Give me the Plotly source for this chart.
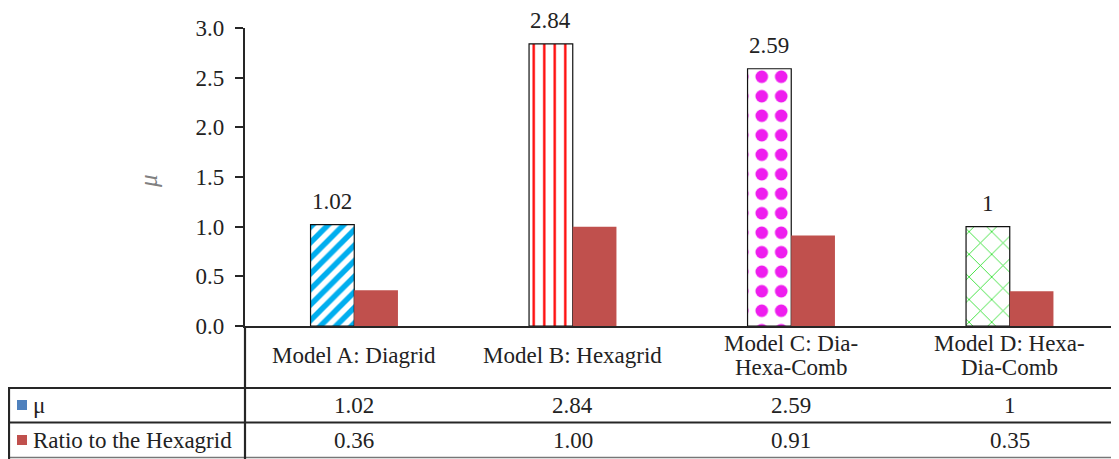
import plotly.graph_objects as go

categories = ["Model A: Diagrid", "Model B: Hexagrid", "Model C: Dia-<br>Hexa-Comb", "Model D: Hexa-<br>Dia-Comb"]
mu = [1.02, 2.84, 2.59, 1.0]
ratio = [0.36, 1.00, 0.91, 0.35]
series_names = ["μ", "Ratio to the Hexagrid"]
y_ticks = [0.0, 0.5, 1.0, 1.5, 2.0, 2.5, 3.0]

# page body adds an 8px margin, so the figure is drawn 8px smaller and offset
OFF = 8
W, H = 1119 - OFF, 459 - OFF
ML, MR, MT, MB = 245 - OFF, 0, 28 - OFF, 459 - 326
PW, PH = W - ML - MR, H - MT - MB

def px2x(px):
    return (px - OFF - ML) / PW

def py2y(py):
    return (H - MB - (py - OFF)) / PH

FONT = "Liberation Serif"
TXT = "#222222"
FS = 23
BLUE = "#4F81BD"
RED = "#C0504D"

fig = go.Figure()
fig.add_trace(go.Bar(
    x=categories, y=mu, name=series_names[0],
    marker=dict(
        color="white",
        line=dict(color="#111111", width=1.2),
        pattern=dict(
            shape=["/", "|", ".", "x"],
            fgcolor=["#00AEEF", "#FF0000", "#EE1DEE", "#22DD22"],
            fgopacity=1,
            bgcolor="white",
            size=[11, 10.5, 19.5, 16],
            solidity=[0.5, 0.22, 0.33, 0.1],
        ),
    ),
))
fig.add_trace(go.Bar(
    x=categories, y=ratio, name=series_names[1],
    marker=dict(color=RED, line=dict(width=0)),
))

annotations = []
for i, v in enumerate(mu):
    annotations.append(dict(
        x=i - 0.1, y=v, xref="x", yref="y", text=f"{v:g}", showarrow=False,
        yanchor="bottom", yshift=10, borderpad=0,
        font=dict(family=FONT, size=FS, color=TXT)))

for i, c in enumerate(categories):
    lines = c.split("<br>")
    n = len(lines)
    for j, ln in enumerate(lines):
        cy = 355 + (j - (n - 1) / 2) * 24
        annotations.append(dict(
            x=i, y=py2y(cy), xref="x", yref="paper", text=ln, showarrow=False,
            xanchor="center", yanchor="middle", font=dict(family=FONT, size=FS, color=TXT)))

row_centers = [405, 440]
row_vals = [[f"{v:g}" for v in mu], [f"{v:.2f}" for v in ratio]]
row_colors = [BLUE, RED]
shapes = []
for r in range(2):
    cy = row_centers[r]
    annotations.append(dict(
        x=px2x(31), y=py2y(cy), xref="paper", yref="paper", text=series_names[r],
        showarrow=False, xanchor="left", yanchor="middle",
        font=dict(family=FONT, size=FS, color=TXT)))
    shapes.append(dict(type="rect", xref="paper", yref="paper",
                       x0=px2x(17), x1=px2x(27), y0=py2y(cy + 5), y1=py2y(cy - 5),
                       fillcolor=row_colors[r], line=dict(width=0)))
    for i, t in enumerate(row_vals[r]):
        annotations.append(dict(
            x=i, y=py2y(cy), xref="x", yref="paper", text=t, showarrow=False,
            xanchor="center", yanchor="middle", font=dict(family=FONT, size=FS, color=TXT)))

annotations.append(dict(
    x=px2x(148), y=py2y(181), xref="paper", yref="paper", text="<i>μ</i>",
    showarrow=False, textangle=-90, xanchor="center", yanchor="middle",
    font=dict(family=FONT, size=FS + 2, color="#808080")))

LINE = "#262626"
for py in [388, 422.5]:
    shapes.append(dict(type="line", xref="paper", yref="paper",
                       x0=px2x(9), x1=1, y0=py2y(py), y1=py2y(py),
                       line=dict(color=LINE, width=2.2)))
shapes.append(dict(type="line", xref="paper", yref="paper",
                   x0=px2x(9), x1=1, y0=py2y(457.5), y1=py2y(457.5),
                   line=dict(color="#777777", width=1.5)))
shapes.append(dict(type="line", xref="paper", yref="paper",
                   x0=px2x(9), x1=px2x(9), y0=py2y(387), y1=py2y(459),
                   line=dict(color=LINE, width=2.2)))
shapes.append(dict(type="line", xref="paper", yref="paper",
                   x0=0, x1=0, y0=0, y1=py2y(459),
                   line=dict(color=LINE, width=2.2)))

fig.update_layout(
    width=W, height=H,
    margin=dict(l=ML, r=MR, t=MT, b=MB, pad=0),
    plot_bgcolor="white", paper_bgcolor="white",
    barmode="group", bargap=0.6, bargroupgap=0,
    showlegend=False,
    annotations=annotations, shapes=shapes,
    font=dict(family=FONT, size=FS, color=TXT),
)
fig.update_xaxes(
    type="category", categoryorder="array", categoryarray=categories,
    range=[-0.5, 3.5], showticklabels=False, ticks="",
    showline=True, linecolor=LINE, linewidth=2.2, showgrid=False, zeroline=False,
)
fig.update_yaxes(
    range=[0, 3.0], tickvals=y_ticks, ticktext=[f"{t:.1f}" for t in y_ticks],
    ticks="outside", ticklen=8, tickwidth=2, tickcolor=LINE,
    showline=True, linecolor=LINE, linewidth=2.2, showgrid=False, zeroline=False,
    ticklabelstandoff=6,
    tickfont=dict(family=FONT, size=FS, color=TXT),
)

fig.write_html("out.html")
